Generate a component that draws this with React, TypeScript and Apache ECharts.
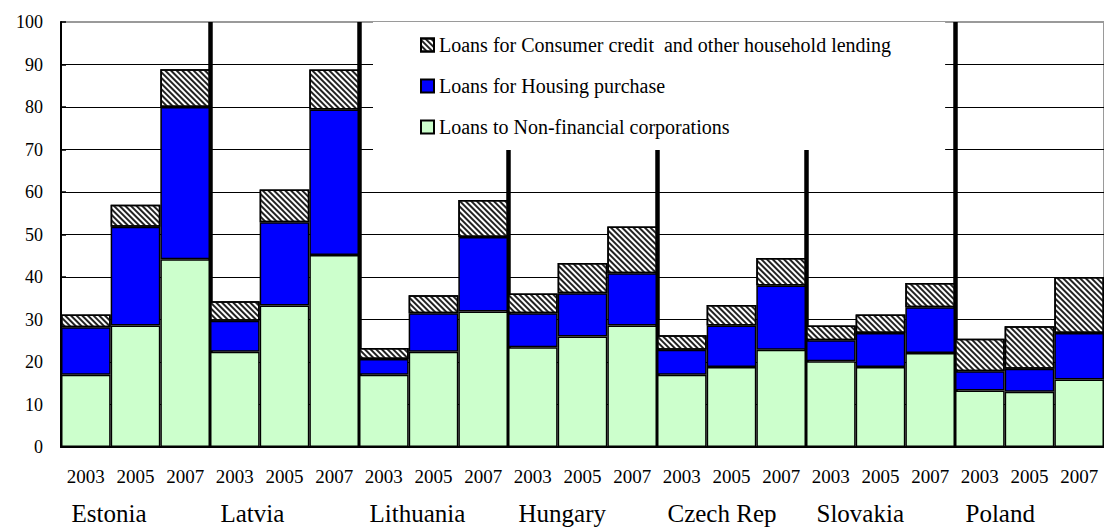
import React, { useEffect, useRef } from "react";
import * as echarts from "echarts";

const countries = ["Estonia", "Latvia", "Lithuania", "Hungary", "Czech Rep", "Slovakia", "Poland"];
const years = ["2003", "2005", "2007"];
const yTickMax = 100;
const yTickStep = 10;

// Loans to non-financial corporations (bottom segment)
const nonFinancial = [
  17.0, 28.6, 44.2,
  22.4, 33.3, 45.2,
  17.0, 22.4, 31.9,
  23.5, 26.0, 28.6,
  17.0, 18.8, 22.9,
  20.2, 18.8, 22.1,
  13.3, 13.0, 15.9,
];
// Loans for housing purchase (middle segment)
const housing = [
  11.2, 23.2, 35.8,
  7.3, 19.6, 34.2,
  3.7, 9.1, 17.5,
  8.0, 10.2, 12.3,
  5.9, 9.8, 15.1,
  4.9, 8.0, 10.8,
  4.5, 5.4, 10.9,
];
// Loans for consumer credit and other household lending (top segment)
const consumer = [
  3.0, 5.2, 8.9,
  4.6, 7.7, 9.4,
  2.6, 4.2, 8.7,
  4.6, 7.1, 11.0,
  3.4, 4.8, 6.5,
  3.5, 4.4, 5.7,
  7.7, 10.0, 13.2,
];

const seriesNames = {
  consumer: "Loans for Consumer credit  and other household lending",
  housing: "Loans for Housing purchase",
  nonFinancial: "Loans to Non-financial corporations",
};

const categories = countries.flatMap((c) => years.map((y) => `${c}|${y}`));

export default function App() {
  const ref = useRef<HTMLDivElement>(null);

  useEffect(() => {
    if (!ref.current) return;
    const chart = echarts.init(ref.current, undefined, { renderer: "svg" });
    const serif = "Liberation Serif";
    const border = { borderColor: "#000", borderWidth: 1.5 };

    chart.setOption({
      animation: false,
      backgroundColor: "#fff",
      grid: {
        left: 61,
        top: 22,
        right: -5,
        bottom: 80,
        show: true,
        borderColor: "#9a9a9a",
        borderWidth: 2,
        backgroundColor: "transparent",
      },
      legend: {
        orient: "vertical",
        left: 373,
        top: 22,
        padding: [13, 54, 13, 47],
        itemGap: 21,
        itemWidth: 13,
        itemHeight: 13,
        icon: "rect",
        backgroundColor: "#fff",
        data: [seriesNames.consumer, seriesNames.housing, seriesNames.nonFinancial],
        textStyle: { fontFamily: serif, fontSize: 20, color: "#000" },
        selectedMode: false,
      },
      xAxis: [
        {
          type: "category",
          data: categories,
          position: "bottom",
          axisLine: { show: true, lineStyle: { color: "#000", width: 2 } },
          axisTick: { show: false },
          axisLabel: {
            interval: 0,
            margin: 20,
            color: "#000",
            fontFamily: serif,
            fontSize: 19,
            formatter: (v: string) => v.split("|")[1],
          },
          splitLine: { show: false },
          z: 3,
        },
        {
          type: "category",
          data: countries,
          position: "bottom",
          axisLine: { show: false },
          axisTick: { show: false },
          axisLabel: { show: false },
          splitLine: {
            show: true,
            interval: 0,
            showMinLine: false,
            showMaxLine: false,
            lineStyle: { color: "#000", width: 4.5 },
          },
        },
      ],
      yAxis: {
        type: "value",
        min: 0,
        max: yTickMax,
        interval: yTickStep,
        axisLine: { show: true, lineStyle: { color: "#000", width: 2 } },
        axisTick: { show: true, inside: true, length: 5, lineStyle: { color: "#000", width: 1.5 } },
        axisLabel: { color: "#000", fontFamily: serif, fontSize: 18, margin: 18 },
        splitLine: { show: true, showMaxLine: false, lineStyle: { color: "#000", width: 1 } },
      },
      series: [
        {
          name: seriesNames.nonFinancial,
          type: "bar",
          stack: "loans",
          barCategoryGap: "0%",
          data: nonFinancial,
          itemStyle: { color: "#CCFFCC", ...border },
        },
        {
          name: seriesNames.housing,
          type: "bar",
          stack: "loans",
          barCategoryGap: "0%",
          data: housing,
          itemStyle: { color: "#0000FF", ...border },
        },
        {
          name: seriesNames.consumer,
          type: "bar",
          stack: "loans",
          barCategoryGap: "0%",
          data: consumer,
          itemStyle: {
            color: "#ffffff",
            ...border,
            decal: {
              symbol: "rect",
              symbolSize: 1,
              color: "#222",
              backgroundColor: "#fff",
              dashArrayX: [1, 0],
              dashArrayY: [1.6, 1.5],
              rotation: Math.PI / 4,
            },
          },
        },
      ],
    });

    const labels = countries.map((c) => {
      const cx = chart.convertToPixel({ xAxisIndex: 1 }, c) as number;
      return {
        type: "text",
        x: cx - 64,
        y: 513,
        silent: true,
        style: {
          text: c,
          fontFamily: serif,
          fontSize: 25,
          fill: "#000",
          textAlign: "left",
          textVerticalAlign: "middle",
        },
      };
    });
    chart.setOption({ graphic: labels });

    return () => chart.dispose();
  }, []);

  return (
    <div
      ref={ref}
      style={{ position: "fixed", left: 0, top: 0, width: 1104, height: 527 }}
    />
  );
}
